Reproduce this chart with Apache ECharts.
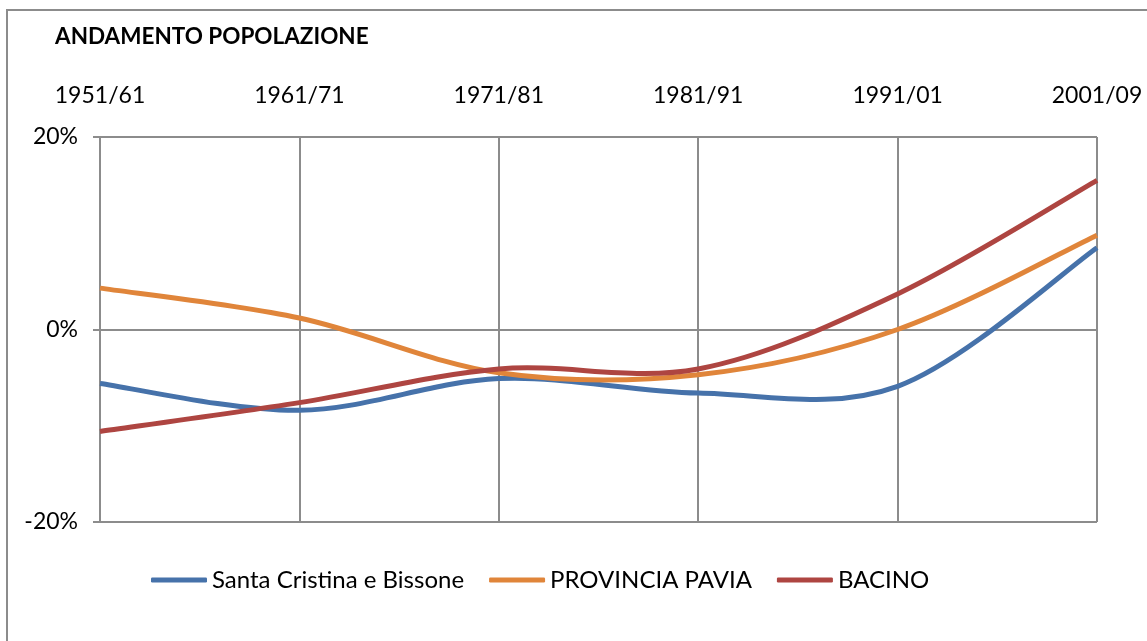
<!DOCTYPE html>
<html>
<head>
<meta charset="utf-8">
<script src="https://cdn.jsdelivr.net/npm/echarts@6/dist/echarts.min.js"></script>
<style>
html,body{margin:0;padding:0;background:#fff;}
#c{width:1147px;height:641px;}
</style>
</head>
<body>
<div id="c"></div>
<script>
const categories = ['1951/61', '1961/71', '1971/81', '1981/91', '1991/01', '2001/09'];
const santaCristina = [-5.6, -8.4, -5.1, -6.6, -5.9, 8.5];
const provinciaPavia = [4.3, 1.2, -4.5, -4.7, 0.0, 9.8];
const bacino = [-10.6, -7.6, -4.1, -4.1, 3.7, 15.5];
const yTicks = [-20, 0, 20];

const font = 'Lato, "Open Sans", sans-serif';

// Smooth curve (Catmull-Rom style, like the spreadsheet's smoothed line) through the
// points placed by the chart's own axes.
function smoothSeries(name, values, color) {
  return {
    name: name,
    type: 'custom',
    coordinateSystem: 'cartesian2d',
    encode: {x: 0, y: 1},
    itemStyle: {color: color},
    data: values.map((v, i) => [i, v]),
    renderItem: function (params, api) {
      if (params.dataIndex !== 0) return null;
      const p = values.map((v, i) => api.coord([i, v]));
      let d = 'M' + p[0][0] + ' ' + p[0][1];
      for (let i = 0; i < p.length - 1; i++) {
        const p0 = p[Math.max(i - 1, 0)], p1 = p[i], p2 = p[i + 1], p3 = p[Math.min(i + 2, p.length - 1)];
        const c1x = p1[0] + (p2[0] - p0[0]) / 6, c1y = p1[1] + (p2[1] - p0[1]) / 6;
        const c2x = p2[0] - (p3[0] - p1[0]) / 6, c2y = p2[1] - (p3[1] - p1[1]) / 6;
        d += ' C' + c1x + ' ' + c1y + ' ' + c2x + ' ' + c2y + ' ' + p2[0] + ' ' + p2[1];
      }
      return {
        type: 'path',
        shape: {pathData: d},
        style: {fill: 'none', stroke: color, lineWidth: 5, lineJoin: 'round'}
      };
    }
  };
}

const chart = echarts.init(document.getElementById('c'));
chart.setOption({
  animation: false,
  backgroundColor: '#fff',
  title: {
    text: 'ANDAMENTO POPOLAZIONE',
    left: 50, top: 20,
    textStyle: {fontFamily: font, fontWeight: 'bold', fontSize: 22.5, color: '#000'}
  },
  graphic: [{
    type: 'rect',
    shape: {x: 7, y: 10, width: 1300, height: 800},
    style: {fill: 'none', stroke: '#8c8c8c', lineWidth: 2},
    silent: true
  }],
  grid: {left: 100, right: 50, top: 137, bottom: 119, containLabel: false},
  legend: {
    left: 146, top: 563,
    itemWidth: 56, itemHeight: 5, itemGap: 25,
    icon: 'roundRect',
    textStyle: {fontFamily: font, fontSize: 24, color: '#000'},
    data: ['Santa Cristina e Bissone', 'PROVINCIA PAVIA', 'BACINO']
  },
  xAxis: {
    type: 'category',
    position: 'top',
    boundaryGap: false,
    data: categories,
    axisLine: {show: false},
    axisTick: {show: true, length: 7, inside: false, lineStyle: {color: '#8c8c8c', width: 2}},
    axisLabel: {fontFamily: font, fontSize: 23, color: '#000', margin: 30, interval: 0},
    splitLine: {show: true, lineStyle: {color: '#8c8c8c', width: 2}}
  },
  yAxis: {
    type: 'value',
    min: yTicks[0], max: yTicks[yTicks.length - 1], interval: 20,
    axisLine: {show: true, lineStyle: {color: '#8c8c8c', width: 2}},
    axisTick: {show: true, length: 7, lineStyle: {color: '#8c8c8c', width: 2}},
    axisLabel: {fontFamily: font, fontSize: 23, color: '#000', margin: 22, formatter: '{value}%'},
    splitLine: {show: true, lineStyle: {color: '#8c8c8c', width: 2}}
  },
  series: [
    smoothSeries('Santa Cristina e Bissone', santaCristina, '#4672AA'),
    smoothSeries('PROVINCIA PAVIA', provinciaPavia, '#E0853A'),
    smoothSeries('BACINO', bacino, '#AE4541')
  ]
});
</script>
</body>
</html>
